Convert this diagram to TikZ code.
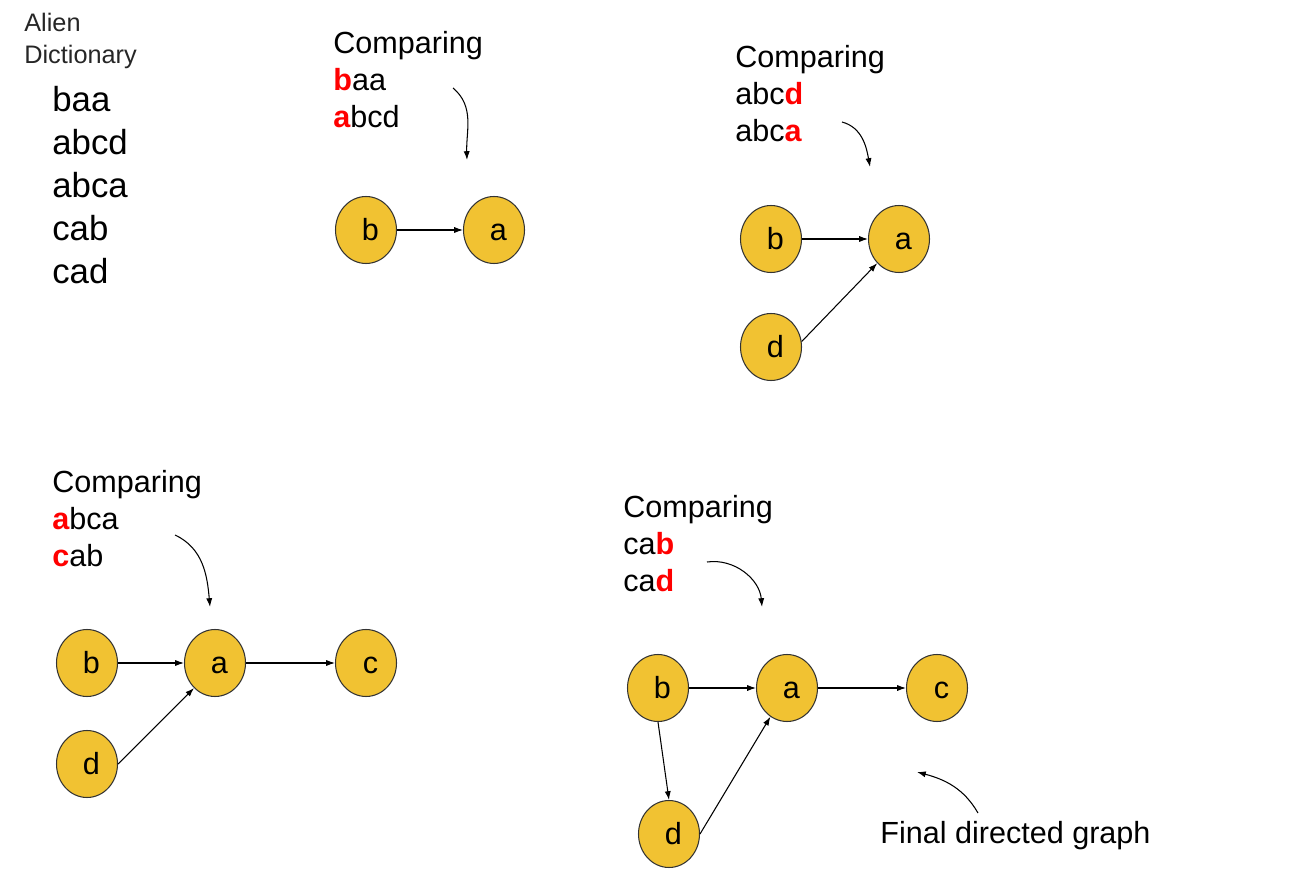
\documentclass[tikz,border=0pt]{standalone}
\usepackage{fontspec}
\setmainfont{Liberation Sans}
\usepackage{xcolor}
\usetikzlibrary{positioning,arrows.meta,shapes.geometric}
\definecolor{vtxyellow}{HTML}{F1C232}
\newcommand{\hl}[1]{\textbf{\textcolor{red}{#1}}}

\begin{document}
\begin{tikzpicture}[x=0.02cm, y=0.02cm, >={Latex[length=5pt,width=3.5pt]},
    vtx/.style={ellipse, draw=black!80, fill=vtxyellow, line width=0.6pt,
        minimum width=1.22cm, minimum height=1.34cm, inner sep=0pt,
        text height=12.5pt, text depth=0pt,
        execute at begin node=\hspace*{5pt},
        font=\fontsize{17.4}{21}\selectfont},
    cmp/.style={anchor=north west, inner sep=0pt, align=left,
        font=\fontsize{17.4}{21}\selectfont},
    link/.style={->, line width=0.6pt}]
    \useasboundingbox (0,0) rectangle (1315,-891);

    % dictionary
    \node[anchor=north west, inner sep=0pt, align=left,
          font=\fontsize{14.4}{18.1}\selectfont, text=black!85] (title) at (24,-13)
        {Alien\\Dictionary};
    \node[anchor=north west, inner sep=0pt, align=left,
          font=\fontsize{19.8}{24.4}\selectfont] (words) at (52,-86)
        {baa\\abcd\\abca\\cab\\cad};

    % step 1: baa / abcd
    \node[cmp] (cmp1) at (333,-31) {Comparing\\\hl{b}aa\\\hl{a}bcd};
    \node[vtx] (b1) at (366,-230) {b};
    \node[vtx] (a1) at (494,-230) {a};
    \draw[link] (b1) -- (a1);
    \coordinate (s1) at (453,-88);
    \coordinate (e1) at (467,-160);
    \draw[link] (s1) to[out=-40, in=92] (e1);

    % step 2: abcd / abca
    \node[cmp] (cmp2) at (735,-45) {Comparing\\abc\hl{d}\\abc\hl{a}};
    \node[vtx] (b2) at (771,-239) {b};
    \node[vtx] (a2) at (899,-239) {a};
    \node[vtx] (d2) at (771,-347) {d};
    \draw[link] (b2) -- (a2);
    \draw[link] (d2.10) -- (a2.228);
    \coordinate (s2) at (842,-122);
    \coordinate (e2) at (870,-167);
    \draw[link] (s2) to[out=-15, in=100] (e2);

    % step 3: abca / cab
    \node[cmp] (cmp3) at (52,-470) {Comparing\\\hl{a}bca\\\hl{c}ab};
    \node[vtx] (b3) at (87,-663) {b};
    \node[vtx] (a3) at (215,-663) {a};
    \node[vtx] (c3) at (366,-663) {c};
    \node[vtx] (d3) at (87,-764) {d};
    \draw[link] (b3) -- (a3);
    \draw[link] (a3) -- (c3);
    \draw[link] (d3.east) -- (a3.230);
    \coordinate (s3) at (175,-535);
    \coordinate (e3) at (210,-607);
    \draw[link] (s3) to[out=-25, in=95] (e3);

    % step 4: cab / cad -> final graph
    \node[cmp] (cmp4) at (623,-495) {Comparing\\ca\hl{b}\\ca\hl{d}};
    \node[vtx] (b4) at (658,-688) {b};
    \node[vtx] (a4) at (787,-688) {a};
    \node[vtx] (c4) at (937,-688) {c};
    \node[vtx] (d4) at (669,-834) {d};
    \draw[link] (b4) -- (a4);
    \draw[link] (a4) -- (c4);
    \draw[link] (b4.south) -- (d4.north);
    \draw[link] (d4.east) -- (a4.240);
    \coordinate (s4) at (707,-562);
    \coordinate (e4) at (762,-607);
    \draw[link] (s4) to[out=8, in=95] (e4);

    \node[cmp] (final) at (880,-821) {Final directed graph};
    \coordinate (s5) at (978,-813);
    \coordinate (e5) at (917,-772);
    \draw[link] (s5) to[out=120, in=-15] (e5);
\end{tikzpicture}
\end{document}
